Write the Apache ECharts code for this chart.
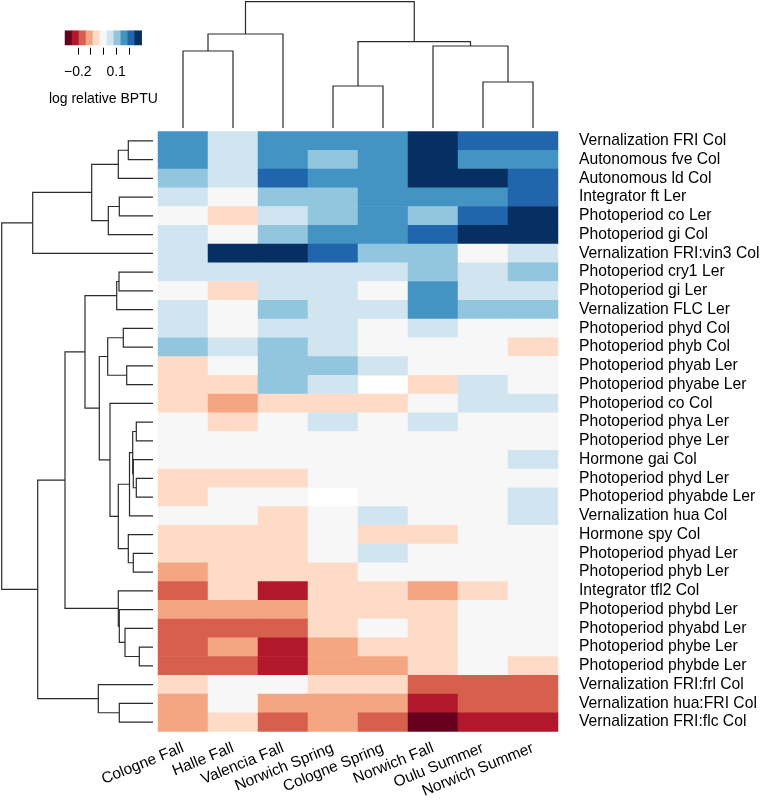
<!DOCTYPE html>
<html>
<head>
<meta charset="utf-8">
<script src="https://cdn.jsdelivr.net/npm/echarts@6/dist/echarts.min.js"></script>
<style>
html,body{margin:0;padding:0;background:#fff;}
#chart{width:764px;height:805px;}
</style>
</head>
<body>
<div id="chart"></div>
<script>
// ---------- DATA ----------
const columns = ['Cologne Fall','Halle Fall','Valencia Fall','Norwich Spring','Cologne Spring','Norwich Fall','Oulu Summer','Norwich Summer'];
const rowLabels = [
 'Vernalization FRI Col','Autonomous fve Col','Autonomous ld Col','Integrator ft Ler','Photoperiod co Ler',
 'Photoperiod gi Col','Vernalization FRI:vin3 Col','Photoperiod cry1 Ler','Photoperiod gi Ler','Vernalization FLC Ler',
 'Photoperiod phyd Col','Photoperiod phyb Col','Photoperiod phyab Ler','Photoperiod phyabe Ler','Photoperiod co Col',
 'Photoperiod phya Ler','Photoperiod phye Ler','Hormone gai Col','Photoperiod phyd Ler','Photoperiod phyabde Ler',
 'Vernalization hua Col','Hormone spy Col','Photoperiod phyad Ler','Photoperiod phyb Ler','Integrator tfl2 Col',
 'Photoperiod phybd Ler','Photoperiod phyabd Ler','Photoperiod phybe Ler','Photoperiod phybde Ler','Vernalization FRI:frl Col',
 'Vernalization hua:FRI Col','Vernalization FRI:flc Col'
];
// log relative BPTU, one row per genotype, columns in the order above (null = missing)
const bptu = [
 [ 0.16, 0.05, 0.16, 0.16, 0.16, 0.27, 0.22, 0.22],
 [ 0.16, 0.05, 0.16, 0.11, 0.16, 0.27, 0.16, 0.16],
 [ 0.11, 0.05, 0.22, 0.16, 0.16, 0.27, 0.27, 0.22],
 [ 0.05, 0.00, 0.11, 0.11, 0.16, 0.16, 0.16, 0.22],
 [ 0.00,-0.05, 0.05, 0.11, 0.16, 0.11, 0.22, 0.27],
 [ 0.05, 0.00, 0.11, 0.16, 0.16, 0.22, 0.27, 0.27],
 [ 0.05, 0.27, 0.27, 0.22, 0.11, 0.11, 0.00, 0.05],
 [ 0.05, 0.05, 0.05, 0.05, 0.05, 0.11, 0.05, 0.11],
 [ 0.00,-0.05, 0.05, 0.05, 0.00, 0.16, 0.05, 0.05],
 [ 0.05, 0.00, 0.11, 0.05, 0.05, 0.16, 0.11, 0.11],
 [ 0.05, 0.00, 0.05, 0.05, 0.00, 0.05, 0.00, 0.00],
 [ 0.11, 0.05, 0.11, 0.05, 0.00, 0.00, 0.00,-0.05],
 [-0.05, 0.00, 0.11, 0.11, 0.05, 0.00, 0.00, 0.00],
 [-0.05,-0.05, 0.11, 0.05, null,-0.05, 0.05, 0.00],
 [-0.05,-0.11,-0.05,-0.05,-0.05, 0.00, 0.05, 0.05],
 [ 0.00,-0.05, 0.00, 0.05, 0.00, 0.05, 0.00, 0.00],
 [ 0.00, 0.00, 0.00, 0.00, 0.00, 0.00, 0.00, 0.00],
 [ 0.00, 0.00, 0.00, 0.00, 0.00, 0.00, 0.00, 0.05],
 [-0.05,-0.05,-0.05, 0.00, 0.00, 0.00, 0.00, 0.00],
 [-0.05, 0.00, 0.00, null, 0.00, 0.00, 0.00, 0.05],
 [ 0.00, 0.00,-0.05, 0.00, 0.05, 0.00, 0.00, 0.05],
 [-0.05,-0.05,-0.05, 0.00,-0.05,-0.05, 0.00, 0.00],
 [-0.05,-0.05,-0.05, 0.00, 0.05, 0.00, 0.00, 0.00],
 [-0.11,-0.05,-0.05,-0.05, 0.00, 0.00, 0.00, 0.00],
 [-0.16,-0.05,-0.22,-0.05,-0.05,-0.11,-0.05, 0.00],
 [-0.11,-0.11,-0.11,-0.05,-0.05,-0.05, 0.00, 0.00],
 [-0.16,-0.16,-0.16,-0.05, 0.00,-0.05, 0.00, 0.00],
 [-0.16,-0.11,-0.22,-0.11,-0.05,-0.05, 0.00, 0.00],
 [-0.16,-0.16,-0.22,-0.11,-0.11,-0.05, 0.00,-0.05],
 [-0.05, 0.00, 0.00,-0.05,-0.05,-0.16,-0.16,-0.16],
 [-0.11, 0.00,-0.11,-0.11,-0.11,-0.22,-0.16,-0.16],
 [-0.11,-0.05,-0.16,-0.11,-0.16,-0.27,-0.22,-0.22]
];
// dendrogram merges: [left, right, height]; numbers = leaf index, 'mK' = K-th merge
const colMerges = [
 [0, 1, 77], [ 'm0', 2, 94], [3, 4, 42], [6, 7, 46], [5, 'm3', 82], ['m2', 'm4', 86.3], ['m1', 'm5', 126.3]
];
const rowMerges = [
 [0,1,24.7],['m0',2,34.7],[3,4,33.7],['m2',5,44.7],['m1','m3',61.3],['m4',6,120.3],
 [7,8,34],['m6',9,36.3],[10,11,29.7],[12,13,26.3],['m8','m9',45.3],
 [15,16,16.7],[18,19,16.7],[17,'m12',19.7],['m11','m13',20.3],['m14',20,23.5],
 [22,23,19.7],[21,'m16',24.7],['m15','m17',34.7],[14,'m18',43],['m10','m19',53.7],['m7','m20',68],
 [27,28,13.7],[26,'m22',28],[25,'m23',33.7],[24,'m24',34.7],['m21','m25',88],
 [30,31,33.7],[29,'m27',54.7],['m26','m28',115.3],['m5','m29',151.3]
];
// colour key
const keyBreaks = [-0.3,-0.245,-0.191,-0.136,-0.082,-0.027,0.027,0.082,0.136,0.191,0.245,0.3];
const keyTicks = [-0.2,-0.1,0,0.1,0.2];
const keyLabels = [-0.2,0.1];

// ---------- BUILD ----------
const palette = ['#67001F','#B2182B','#D6604D','#F4A582','#FDDBC7','#F7F7F7','#D1E5F0','#92C5DE','#4393C3','#2166AC','#053061'];
const pieces = palette.map((c,i)=>({gte:keyBreaks[i], lt:keyBreaks[i+1], color:c}));
pieces[pieces.length-1].lte = keyBreaks[keyBreaks.length-1]; delete pieces[pieces.length-1].lt;

const heatData = [];
bptu.forEach((row,ri)=>row.forEach((v,ci)=>{ if(v!==null) heatData.push([ci,ri,v]); }));
const keyData = palette.map((c,i)=>[i,0,(keyBreaks[i]+keyBreaks[i+1])/2]);

function treeSegments(merges){
  const pos=[], hts=[], segs=[];
  const get = n => typeof n==='number' ? [n+0.5,0] : [pos[+n.slice(1)], hts[+n.slice(1)]];
  merges.forEach(([a,b,h])=>{
    const [pa,ha]=get(a), [pb,hb]=get(b);
    segs.push([pa,ha,pb,hb,h]);
    pos.push((pa+pb)/2); hts.push(h);
  });
  return segs;
}
const colSegs = treeSegments(colMerges);
const rowSegs = treeSegments(rowMerges);
const lineStyle = {stroke:'#2b2b2b', lineWidth:1.2, fill:null};

const FONT = '"Liberation Sans", Arial, Helvetica, sans-serif';

const option = {
  animation:false,
  backgroundColor:'#fff',
  textStyle:{fontFamily:FONT},
  grid:[
    {left:158, top:131.5, width:400, height:600},
    {left:158, top:1.7, width:400, height:126.3},
    {left:1.7, top:131.5, width:151.3, height:600},
    {left:65, top:30.7, width:76.7, height:14.3}
  ],
  xAxis:[
    {gridIndex:0, type:'category', data:columns, position:'bottom',
     axisLine:{show:false}, axisTick:{show:false}, splitLine:{show:false},
     axisLabel:{interval:0, rotate:22, fontSize:15.5, color:'#000', margin:16, fontFamily:FONT}},
    {gridIndex:1, type:'value', min:0, max:8, show:false},
    {gridIndex:2, type:'value', min:0, max:151.3, inverse:true, show:false},
    {gridIndex:3, type:'category', data:palette.map((c,i)=>i), show:false},
    {gridIndex:3, type:'value', min:-0.3, max:0.3, position:'bottom', offset:2.7,
     axisLine:{show:false}, splitLine:{show:false},
     axisTick:{show:true, customValues:keyTicks, length:7, lineStyle:{color:'#000', width:1}},
     axisLabel:{customValues:keyLabels, fontSize:14, color:'#000', margin:17, fontFamily:FONT,
       formatter:v=> v<0 ? '\u2212'+Math.abs(v) : String(v)},
     name:'log relative BPTU', nameLocation:'middle', nameGap:44,
     nameTextStyle:{fontSize:14, color:'#000', fontFamily:FONT}}
  ],
  yAxis:[
    {gridIndex:0, type:'category', data:rowLabels, inverse:true, position:'right',
     axisLine:{show:false}, axisTick:{show:false}, splitLine:{show:false},
     axisLabel:{interval:0, fontSize:15.7, color:'#000', margin:21, fontFamily:FONT}},
    {gridIndex:1, type:'value', min:0, max:126.3, show:false},
    {gridIndex:2, type:'value', min:0, max:32, inverse:true, show:false},
    {gridIndex:3, type:'category', data:['k'], show:false}
  ],
  visualMap:{type:'piecewise', show:false, dimension:2, seriesIndex:[0,1], pieces:pieces},
  series:[
    {type:'heatmap', xAxisIndex:0, yAxisIndex:0, data:heatData, itemStyle:{borderWidth:0}, emphasis:{disabled:true}},
    {type:'heatmap', xAxisIndex:3, yAxisIndex:3, data:keyData, itemStyle:{borderWidth:0}, emphasis:{disabled:true}},
    {type:'custom', xAxisIndex:1, yAxisIndex:1, data:colSegs, clip:false,
     renderItem:(p,api)=>{
       const x1=api.value(0),y1=api.value(1),x2=api.value(2),y2=api.value(3),h=api.value(4);
       return {type:'polyline', shape:{points:[api.coord([x1,y1]),api.coord([x1,h]),api.coord([x2,h]),api.coord([x2,y2])]}, style:lineStyle};
     }},
    {type:'custom', xAxisIndex:2, yAxisIndex:2, data:rowSegs, clip:false,
     renderItem:(p,api)=>{
       const a=api.value(0),ha=api.value(1),b=api.value(2),hb=api.value(3),h=api.value(4);
       return {type:'polyline', shape:{points:[api.coord([ha,a]),api.coord([h,a]),api.coord([h,b]),api.coord([hb,b])]}, style:lineStyle};
     }}
  ]
};
const chart = echarts.init(document.getElementById('chart'), null, {renderer:'canvas'});
chart.setOption(option);
</script>
</body>
</html>
